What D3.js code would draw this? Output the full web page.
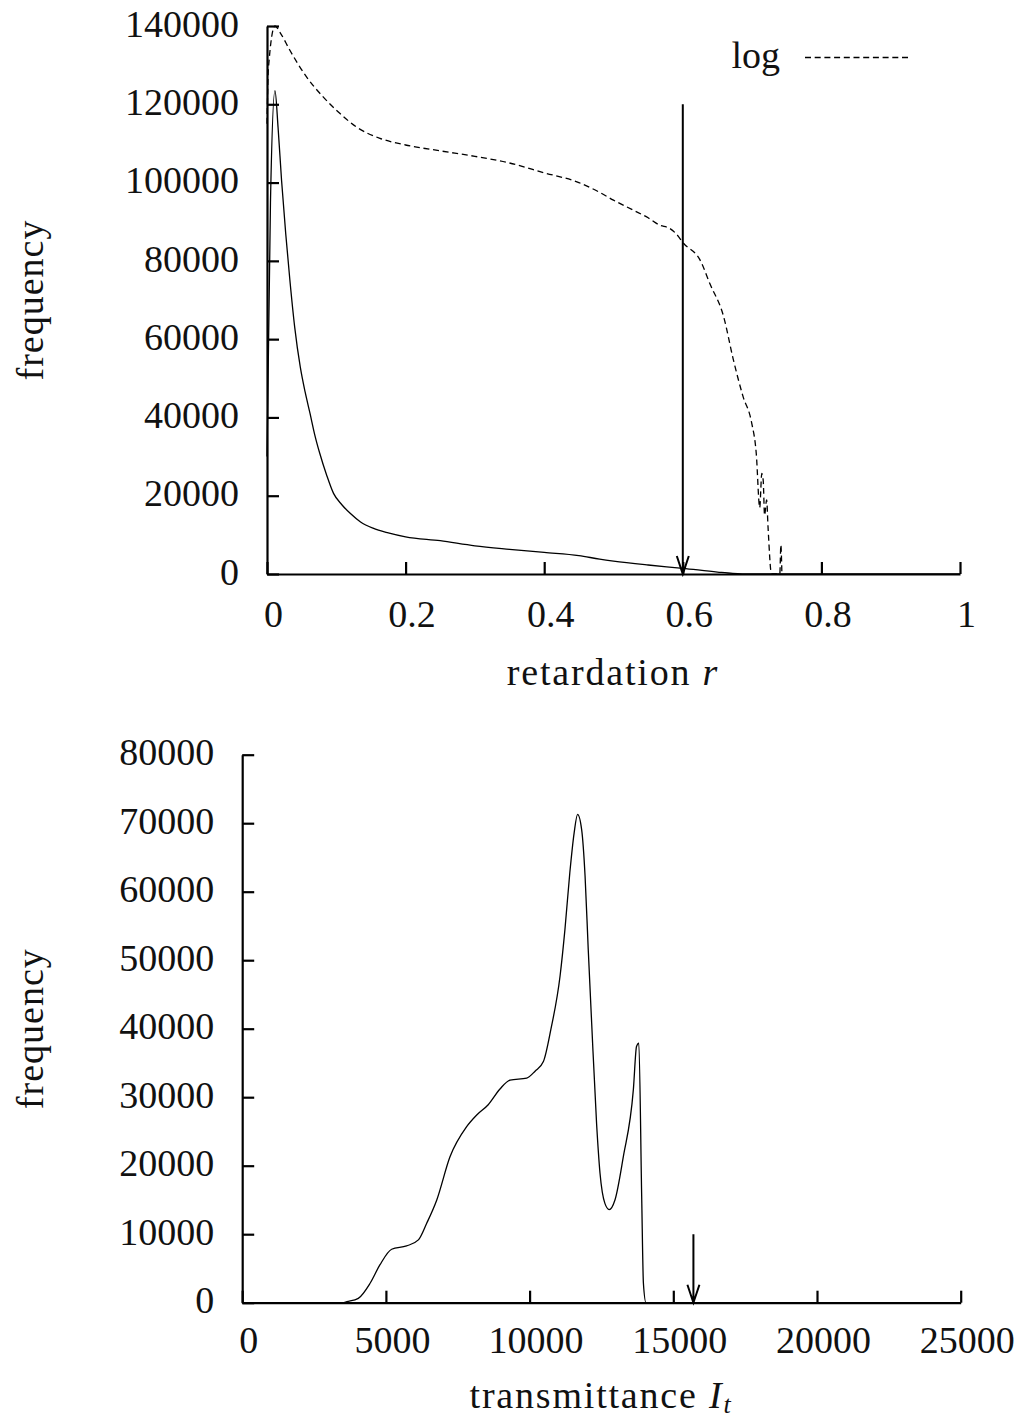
<!DOCTYPE html>
<html>
<head>
<meta charset="utf-8">
<script src="https://cdn.jsdelivr.net/npm/d3@7"></script>
<style>
  html, body { margin: 0; padding: 0; background: #fff; }
  svg { display: block; }
</style>
</head>
<body>
<svg id="chart" width="1022" height="1423"></svg>
<script>
// ---- Retardation histogram, linear counts (solid) ----
const retardation = [0, 0.005, 0.0115, 0.016, 0.021, 0.027, 0.033, 0.04, 0.048, 0.055, 0.062,
  0.069, 0.076, 0.086, 0.096, 0.108, 0.12, 0.135, 0.153, 0.175, 0.2, 0.25, 0.3, 0.35, 0.4,
  0.45, 0.48, 0.5, 0.55, 0.6, 0.65, 0.672, 0.7, 1.0];
const retardationFreq = [30000, 95000, 123500, 114000, 100600, 87000, 75100, 63000, 52900, 46500, 41100,
  35500, 30900, 25300, 20600, 17700, 15500, 13300, 11700, 10500, 9500, 8500, 7200, 6300, 5500,
  4700, 3800, 3300, 2300, 1450, 500, 150, 0, 0];

// ---- Retardation histogram, log counts rescaled (dashed) ----
const logRetardation = [0, 0.002, 0.0115, 0.02, 0.033, 0.057, 0.081, 0.105, 0.129, 0.163,
  0.2, 0.25, 0.3, 0.35, 0.4, 0.45, 0.48, 0.5, 0.528, 0.55, 0.567, 0.58, 0.59, 0.601,
  0.625, 0.639, 0.659, 0.673, 0.687, 0.699, 0.706, 0.711, 0.714, 0.716, 0.718, 0.721,
  0.723, 0.728, 0.74, 0.7415, 0.743];
const logFreq = [115000, 129000, 140000, 138000, 133800, 127000, 121900, 117700, 114200, 111300,
  109600, 108100, 106700, 105000, 102500, 100000, 97500, 95500, 93000, 91000, 89100, 88400, 87000, 84500,
  80200, 74200, 65700, 54700, 45300, 38900, 30800, 17000, 25700, 24000, 15000, 18900,
  12000, 0, 0, 7400, 0];

// ---- Transmittance histogram ----
const transmittance = [0, 3500, 3640, 4040, 4450, 4790, 5200, 5720, 6130, 6420, 6770, 7230,
  7810, 8160, 8560, 8970, 9320, 9900, 10190, 10480, 10740, 11060, 11230, 11400, 11550,
  11670, 11810, 11930, 12040, 12160, 12330, 12450, 12620, 12770, 12970, 13260, 13610,
  13720, 13800, 13900, 13960, 14050, 25000];
const transmittanceFreq = [0, 0, 150, 640, 2840, 5510, 7800, 8290, 9170, 11600, 15000, 21300,
  25700, 27400, 28900, 31200, 32500, 32800, 33800, 35200, 39900, 47700, 54500, 62800, 68600,
  71300, 69100, 62300, 51600, 40800, 26200, 18900, 14500, 13600, 15000, 21300, 31100,
  37400, 37900, 15500, 2840, 0, 0];

// ---- Tick values ----
const retardationTicks = [0, 0.2, 0.4, 0.6, 0.8, 1];
const retardationFreqTicks = [0, 20000, 40000, 60000, 80000, 100000, 120000, 140000];
const transmittanceTicks = [0, 5000, 10000, 15000, 20000, 25000];
const transmittanceFreqTicks = [0, 10000, 20000, 30000, 40000, 50000, 60000, 70000, 80000];

// ---- Threshold markers: [position, arrow start height] ----
const retardationThreshold = [0.6, 120000];
const transmittanceThreshold = [15700, 10000];

const FONT = "'Liberation Serif', 'Times New Roman', serif";
const INK = "#111";
const svg = d3.select("#chart");
svg.append("rect").attr("width", 1022).attr("height", 1423).attr("fill", "#fff");

function styleAxis(g) {
  g.attr("font-family", FONT).attr("font-size", 38);
  g.select(".domain").attr("stroke", "#000").attr("stroke-width", 2.2);
  g.selectAll(".tick line").attr("stroke", "#000").attr("stroke-width", 2.2);
  g.selectAll(".tick text").attr("fill", INK);
}

function drawPanel(p) {
  const x = d3.scaleLinear().domain(p.xDomain).range(p.xRange);
  const y = d3.scaleLinear().domain(p.yDomain).range(p.yRange);
  const g = svg.append("g");

  // curves
  p.series.forEach(s => {
    const pts = s.xs.map((v, i) => [v, s.ys[i]]);
    g.append("path")
      .attr("d", d3.line().x(d => x(d[0])).y(d => y(d[1])).curve(d3.curveMonotoneX)(pts))
      .attr("fill", "none")
      .attr("stroke", "#000")
      .attr("stroke-width", 1.3)
      .attr("stroke-linejoin", "round")
      .attr("stroke-dasharray", s.dash || null);
  });

  // axes
  const yAxis = g.append("g")
    .attr("transform", `translate(${p.xRange[0]},0)`)
    .call(d3.axisLeft(y).tickValues(p.yTicks).tickSize(-12).tickSizeOuter(0)
      .tickPadding(28).tickFormat(d => String(d)));
  styleAxis(yAxis);
  yAxis.selectAll(".tick text").attr("dy", "0.27em");

  const xAxis = g.append("g")
    .attr("transform", `translate(0,${p.yRange[0]})`)
    .call(d3.axisBottom(x).tickValues(p.xTicks).tickSize(-12).tickSizeOuter(0)
      .tickPadding(p.xPad).tickFormat(d => String(d)));
  styleAxis(xAxis);
  xAxis.selectAll(".tick text").attr("dx", 6);

  // threshold arrow
  const ax = x(p.arrow[0]), ay0 = y(p.arrow[1]), ay1 = y(0);
  g.append("path")
    .attr("d", `M${ax},${ay0}L${ax},${ay1}M${ax - 6},${ay1 - 18}L${ax},${ay1}L${ax + 6},${ay1 - 18}`)
    .attr("fill", "none").attr("stroke", "#000").attr("stroke-width", 2);

  // y title
  svg.append("text")
    .attr("transform", `translate(43,${(p.yRange[0] + p.yRange[1]) / 2}) rotate(-90)`)
    .attr("text-anchor", "middle")
    .attr("font-family", FONT).attr("font-size", 38).attr("fill", INK)
    .attr("letter-spacing", "1px")
    .text("frequency");
  return { x, y };
}

drawPanel({
  xDomain: [0, 1], xRange: [267, 960],
  yDomain: [0, 140000], yRange: [574, 26],
  xTicks: retardationTicks, yTicks: retardationFreqTicks, xPad: 26,
  series: [
    { xs: retardation, ys: retardationFreq },
    { xs: logRetardation, ys: logFreq, dash: "6,3.7" }
  ],
  arrow: retardationThreshold
});

drawPanel({
  xDomain: [0, 25000], xRange: [242.2, 960.7],
  yDomain: [0, 80000], yRange: [1302.7, 754.7],
  xTicks: transmittanceTicks, yTicks: transmittanceFreqTicks, xPad: 23,
  series: [{ xs: transmittance, ys: transmittanceFreq }],
  arrow: transmittanceThreshold
});

// x titles
const t1 = svg.append("text")
  .attr("x", 613).attr("y", 685).attr("text-anchor", "middle")
  .attr("font-family", FONT).attr("font-size", 38).attr("fill", INK)
  .attr("letter-spacing", "1.8px");
t1.append("tspan").text("retardation ");
t1.append("tspan").attr("font-style", "italic").text("r");

const t2 = svg.append("text")
  .attr("x", 601).attr("y", 1408).attr("text-anchor", "middle")
  .attr("font-family", FONT).attr("font-size", 38).attr("fill", INK)
  .attr("letter-spacing", "1.8px");
t2.append("tspan").text("transmittance ");
t2.append("tspan").attr("font-style", "italic").text("I");
t2.append("tspan").attr("font-style", "italic").attr("font-size", 26).attr("dy", 5).text("t");

// legend
svg.append("text")
  .attr("x", 780).attr("y", 68).attr("text-anchor", "end")
  .attr("font-family", FONT).attr("font-size", 38).attr("fill", INK)
  .text("log");
svg.append("line")
  .attr("x1", 805).attr("x2", 911).attr("y1", 57.5).attr("y2", 57.5)
  .attr("stroke", "#000").attr("stroke-width", 1.3).attr("stroke-dasharray", "6,3.7");
</script>
</body>
</html>
